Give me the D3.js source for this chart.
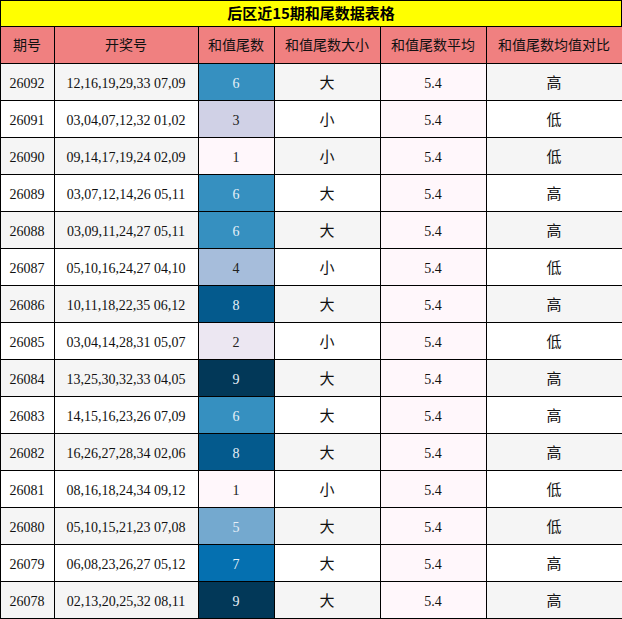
<!DOCTYPE html><html><head><meta charset="utf-8"><script src="https://cdn.jsdelivr.net/npm/d3@7"></script>
<style>body{margin:0;background:#fff}</style></head><body><svg id="c" width="622" height="619"></svg>
<script>
const title="后区近15期和尾数据表格";
const headers=["期号","开奖号","和值尾数","和值尾数大小","和值尾数平均","和值尾数均值对比"];
const periods=["26092","26091","26090","26089","26088","26087","26086","26085","26084","26083","26082","26081","26080","26079","26078"];
const draws=["12,16,19,29,33 07,09","03,04,07,12,32 01,02","09,14,17,19,24 02,09","03,07,12,14,26 05,11","03,09,11,24,27 05,11","05,10,16,24,27 04,10","10,11,18,22,35 06,12","03,04,14,28,31 05,07","13,25,30,32,33 04,05","14,15,16,23,26 07,09","16,26,27,28,34 02,06","08,16,18,24,34 09,12","05,10,15,21,23 07,08","06,08,23,26,27 05,12","02,13,20,25,32 08,11"];
const tails=[6,3,1,6,6,4,8,2,9,6,8,1,5,7,9];
const sizes=["大","小","小","大","大","小","大","小","大","大","大","小","大","大","大"];
const avgs=[5.4,5.4,5.4,5.4,5.4,5.4,5.4,5.4,5.4,5.4,5.4,5.4,5.4,5.4,5.4];
const compare=["高","低","低","高","高","低","高","低","高","高","高","低","低","高","高"];
const colEdges=[0,54,198,274,380,486,622];
const svg=d3.select("#c");
const pal=["#fff7fb","#ece7f2","#d0d1e6","#a6bddb","#74a9cf","#3690c0","#0570b0","#045a8d","#023858"];
const color=d3.scaleQuantize().domain([0.5,9.5]).range(pal);
const y=d3.scaleBand().domain(d3.range(15)).range([63,618]);
const cjk="'Noto Sans CJK SC',sans-serif", serif="'Liberation Serif',serif";
// title
svg.append("rect").attr("x",0.5).attr("y",0.5).attr("width",621).attr("height",26).attr("fill","#ffff00").attr("stroke","#000");
svg.append("text").attr("x",311).attr("y",14).attr("dy","0.36em").attr("text-anchor","middle").attr("font-family",cjk).attr("font-weight","bold").attr("font-size",15).text(title);
// header
headers.forEach((h,i)=>{
 svg.append("rect").attr("x",colEdges[i]+0.5).attr("y",26.5).attr("width",colEdges[i+1]-colEdges[i]).attr("height",37).attr("fill","#f08080").attr("stroke","#000");
 svg.append("text").attr("x",(colEdges[i]+colEdges[i+1])/2).attr("y",45).attr("dy","0.36em").attr("text-anchor","middle").attr("font-family",cjk).attr("font-size",14).attr("fill","#111").text(h);
});
periods.forEach((p,r)=>{
 const vals=[p,draws[r],tails[r],sizes[r],avgs[r].toFixed(1),compare[r]];
 const base=r%2===0?"#f5f5f5":"#ffffff";
 vals.forEach((v,i)=>{
  let fill=base, tc="#111", ff=(i===3||i===5)?cjk:serif;
  if(i===2){fill=color(tails[r]); tc=tails[r]>=5?"#e8f0f8":"#222";}
  if(i===4) fill="#fff7fb";
  svg.append("rect").attr("x",colEdges[i]+0.5).attr("y",y(r)+0.5).attr("width",colEdges[i+1]-colEdges[i]).attr("height",y.bandwidth()).attr("fill",fill).attr("stroke","#000");
  svg.append("text").attr("x",(colEdges[i]+colEdges[i+1])/2).attr("y",y(r)+y.bandwidth()/2+1).attr("dy","0.36em").attr("text-anchor","middle").attr("font-family",ff).attr("font-size",(i===3||i===5)?15:14).attr("fill",tc).text(v);
 });
});
</script></body></html>
